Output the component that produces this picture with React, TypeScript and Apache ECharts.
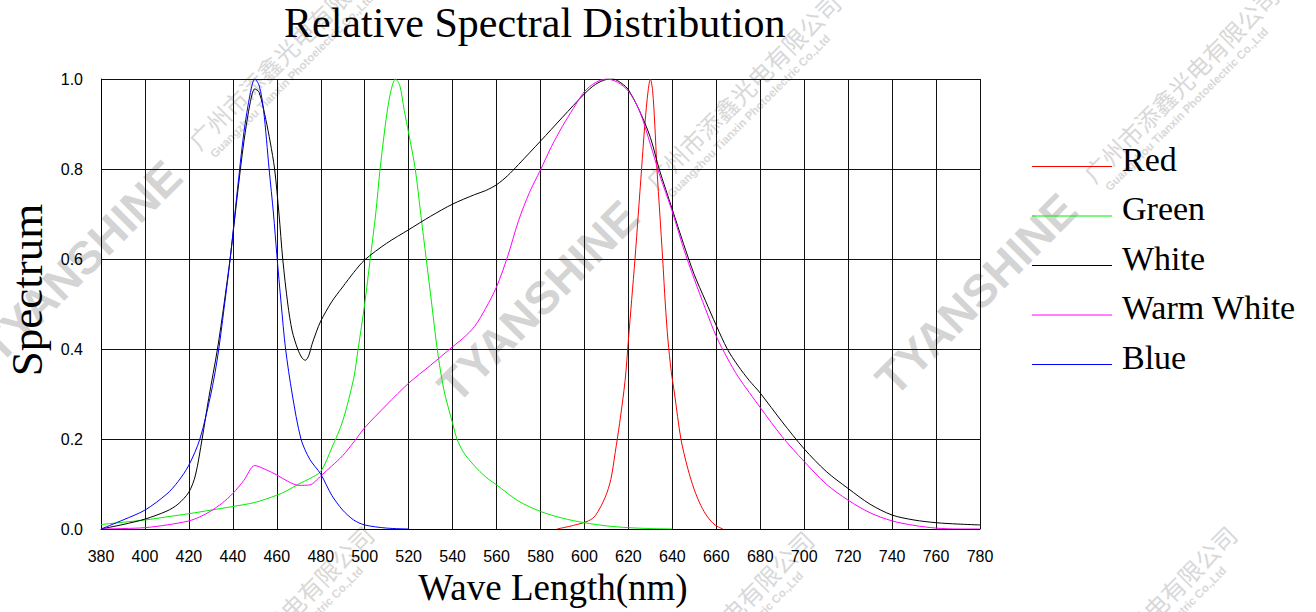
import React, { useEffect, useRef } from "react";
import * as echarts from "echarts";

// ---- data (wavelength nm, relative value) ----
const RED: [number, number][] = [
  [587.5, 0], [595, 0.008], [601.8, 0.018], [605, 0.03], [609.4, 0.07], [612, 0.11],
  [614, 0.17], [616, 0.235], [618.5, 0.33], [620, 0.42], [621.5, 0.51], [623, 0.6],
  [624.5, 0.7], [626, 0.8], [627.5, 0.9], [629, 0.975], [630, 1.0], [631, 0.975],
  [632, 0.9], [633, 0.8], [634.3, 0.7], [635.6, 0.6], [636.8, 0.5], [638, 0.42],
  [639.5, 0.35], [641, 0.3], [643.9, 0.2], [647, 0.135], [650, 0.087], [653, 0.052],
  [656, 0.027], [659.4, 0.009], [663, 0],
];

const GREEN: [number, number][] = [
  [380, 0.01], [390, 0.015], [400, 0.02], [410, 0.027], [420, 0.034], [430, 0.042],
  [440, 0.05], [450, 0.059], [460, 0.075], [465, 0.086], [470, 0.1], [475, 0.112],
  [480, 0.128], [485, 0.18], [490, 0.24], [495, 0.335], [497, 0.4], [500, 0.5],
  [502.5, 0.6], [505, 0.7], [507, 0.8], [510, 0.92], [512, 0.975], [514, 1.0],
  [516, 0.985], [518, 0.93], [520, 0.88], [523, 0.8], [525.5, 0.7], [528, 0.6],
  [530.5, 0.5], [533, 0.4], [536, 0.31], [540, 0.235], [542, 0.2], [545, 0.17],
  [550, 0.14], [555, 0.116], [560, 0.098], [570, 0.062], [580, 0.039], [590, 0.024],
  [600, 0.014], [610, 0.007], [620, 0.003], [630, 0.001], [640, 0],
];

const WHITE: [number, number][] = [
  [380, 0], [390, 0.01], [400, 0.022], [410, 0.04], [415, 0.055], [420, 0.082],
  [423, 0.12], [426, 0.2], [429, 0.29], [433, 0.4], [436, 0.5], [439, 0.61],
  [442, 0.74], [445, 0.86], [448, 0.95], [450, 0.978], [452, 0.97], [455, 0.91],
  [457, 0.86], [459, 0.8], [461, 0.7], [462.7, 0.6], [465, 0.5], [467, 0.44],
  [469.5, 0.4], [471.5, 0.38], [473, 0.375], [474.5, 0.385], [476, 0.41], [478, 0.438],
  [480, 0.462], [485, 0.505], [490, 0.538], [495, 0.57], [500, 0.598], [510, 0.635],
  [520, 0.665], [530, 0.695], [540, 0.722], [550, 0.743], [555, 0.752], [560, 0.765],
  [565, 0.785], [570, 0.81], [580, 0.862], [590, 0.915], [600, 0.967], [605, 0.988],
  [610, 0.999], [613, 1.0], [617, 0.99], [620, 0.976], [625, 0.93], [630, 0.87],
  [634, 0.8], [640, 0.71], [645, 0.635], [650, 0.565], [655, 0.508], [660, 0.452],
  [665, 0.4], [670, 0.362], [675, 0.33], [680, 0.302], [690, 0.238], [700, 0.178],
  [710, 0.128], [720, 0.09], [730, 0.055], [740, 0.031], [750, 0.02], [760, 0.014],
  [770, 0.011], [780, 0.009],
];

const WARM_WHITE: [number, number][] = [
  [380, 0], [390, 0.001], [400, 0.003], [410, 0.009], [420, 0.018], [425, 0.027],
  [430, 0.04], [435, 0.057], [440, 0.079], [445, 0.108], [450, 0.141], [455, 0.132],
  [460, 0.12], [465, 0.106], [470, 0.097], [475, 0.098], [480, 0.118], [485, 0.14],
  [490, 0.163], [495, 0.193], [500, 0.225], [510, 0.276], [520, 0.324], [530, 0.364],
  [540, 0.405], [545, 0.425], [550, 0.45], [555, 0.49], [560, 0.538], [565, 0.605],
  [570, 0.685], [575, 0.748], [580, 0.798], [585, 0.85], [590, 0.895], [595, 0.935],
  [600, 0.972], [605, 0.992], [610, 1.0], [615, 0.993], [620, 0.973], [625, 0.93],
  [630, 0.855], [634, 0.79], [640, 0.705], [645, 0.625], [650, 0.555], [655, 0.49],
  [660, 0.428], [665, 0.38], [670, 0.338], [680, 0.27], [690, 0.205], [700, 0.15],
  [710, 0.1], [720, 0.064], [730, 0.036], [740, 0.018], [750, 0.008], [760, 0.002],
  [770, 0], [780, 0],
];

const BLUE: [number, number][] = [
  [380, 0], [390, 0.02], [400, 0.042], [410, 0.078], [415, 0.105], [420, 0.142],
  [425, 0.2], [430, 0.3], [433, 0.38], [436, 0.49], [439, 0.61], [442, 0.75],
  [445, 0.88], [448, 0.97], [450, 1.0], [452, 0.985], [454, 0.93], [456.5, 0.8],
  [458.5, 0.7], [460, 0.61], [462, 0.5], [464, 0.4], [467, 0.3], [471, 0.2],
  [475, 0.155], [480, 0.122], [485, 0.075], [490, 0.042], [495, 0.02], [500, 0.009],
  [510, 0.002], [520, 0],
];

const SERIES_NAMES = ["Red", "Green", "White", "Warm White", "Blue"];
const SERIES_COLORS = ["#ff0000", "#00ee00", "#000000", "#ff00ff", "#0000ff"];
const SERIES_DATA = [RED, GREEN, WHITE, WARM_WHITE, BLUE];

const TITLE = "Relative Spectral Distribution";
const X_NAME = "Wave Length(nm)";
const Y_NAME = "Spectrum";
const MARK_BIG = "TYANSHINE";
const MARK_CN = "广州市添鑫光电有限公司";
const MARK_EN = "Guangzhou Tianxin Photoelectric Co.,Ltd";

// legend line sits near the bottom of its icon box so the label stands a little above it
const LEGEND_ICON = "path://M0,0L0.01,0L0.01,0.01Z M0,15L80,15L80,16L0,16Z";

function watermark(x: number, y: number) {
  return {
    type: "group",
    x,
    y,
    rotation: Math.PI / 4,
    silent: true,
    z: -10,
    children: [
      {
        type: "text",
        x: 0,
        y: -16,
        z: -10,
        style: {
          text: MARK_BIG,
          fontFamily: "Liberation Sans",
          fontWeight: "bold",
          fontSize: 46,
          fill: "#d4d4d4",
          align: "left",
          verticalAlign: "middle",
        },
      },
      {
        type: "text",
        x: 292,
        y: -8,
        z: -10,
        style: {
          text: MARK_CN,
          fontFamily: "Noto Sans CJK SC",
          fontSize: 24,
          fill: "#d8d8d8",
          align: "left",
          verticalAlign: "bottom",
        },
      },
      {
        type: "text",
        x: 298,
        y: 2,
        z: -10,
        style: {
          text: MARK_EN,
          fontFamily: "Liberation Sans",
          fontWeight: "bold",
          fontSize: 11.5,
          fill: "#d8d8d8",
          align: "left",
          verticalAlign: "middle",
        },
      },
    ],
  };
}

export default function App() {
  const ref = useRef<HTMLDivElement>(null);
  useEffect(() => {
    document.body.style.margin = "0";
    const chart = echarts.init(ref.current as HTMLDivElement, null, { renderer: "svg" });
    const option: any = {
      animation: false,
      backgroundColor: "#ffffff",
      title: {
        text: TITLE,
        left: 284,
        top: 2,
        padding: 0,
        textStyle: {
          fontFamily: "Liberation Serif",
          fontSize: 42,
          fontWeight: "normal",
          color: "#000",
        },
      },
      legend: {
        orient: "vertical",
        left: 1027,
        top: 137,
        padding: 5,
        icon: LEGEND_ICON,
        itemWidth: 80,
        itemHeight: 16,
        itemGap: 15.5,
        selectedMode: false,
        data: SERIES_NAMES,
        textStyle: {
          fontFamily: "Liberation Serif",
          fontSize: 34,
          lineHeight: 34,
          color: "#000",
          padding: [0, 0, 0, 5],
        },
      },
      grid: {
        left: 101,
        right: 336,
        top: 79,
        bottom: 83,
        containLabel: false,
        outerBoundsMode: "none",
      },
      xAxis: {
        type: "value",
        min: 380,
        max: 780,
        interval: 20,
        name: X_NAME,
        nameLocation: "middle",
        nameGap: 37,
        nameTextStyle: {
          fontFamily: "Liberation Serif",
          fontSize: 37,
          color: "#000",
          padding: [0, 0, 0, 25],
        },
        axisLine: { show: true, lineStyle: { color: "#000", width: 1 } },
        axisTick: { show: false },
        axisLabel: {
          margin: 19,
          fontFamily: "Liberation Sans",
          fontSize: 16,
          color: "#000",
        },
        splitLine: { show: true, lineStyle: { color: "#111", width: 1 } },
      },
      yAxis: {
        type: "value",
        min: 0,
        max: 1,
        interval: 0.2,
        name: Y_NAME,
        nameLocation: "middle",
        nameGap: 52,
        nameTextStyle: {
          fontFamily: "Liberation Serif",
          fontSize: 45,
          color: "#000",
          padding: [0, 0, 0, 28],
        },
        axisLine: { show: true, lineStyle: { color: "#000", width: 1 } },
        axisTick: { show: false },
        axisLabel: {
          margin: 18,
          fontFamily: "Liberation Sans",
          fontSize: 16,
          color: "#000",
          formatter: (v: number) => v.toFixed(1),
        },
        splitLine: { show: true, lineStyle: { color: "#111", width: 1 } },
      },
      graphic: {
        elements: [
          watermark(0, 365),
          watermark(457, 405),
          watermark(895, 398),
          watermark(-10, 937),
          watermark(430, 942),
          watermark(853, 937),
        ],
      },
      series: SERIES_NAMES.map((name, i) => ({
        name,
        type: "line",
        data: SERIES_DATA[i],
        symbol: "none",
        showSymbol: false,
        smooth: 0.3,
        z: 3,
        lineStyle: { color: SERIES_COLORS[i], width: 1 },
        itemStyle: { color: SERIES_COLORS[i] },
      })),
    };
    chart.setOption(option);
    return () => chart.dispose();
  }, []);
  return <div ref={ref} style={{ width: 1316, height: 612 }} />;
}
